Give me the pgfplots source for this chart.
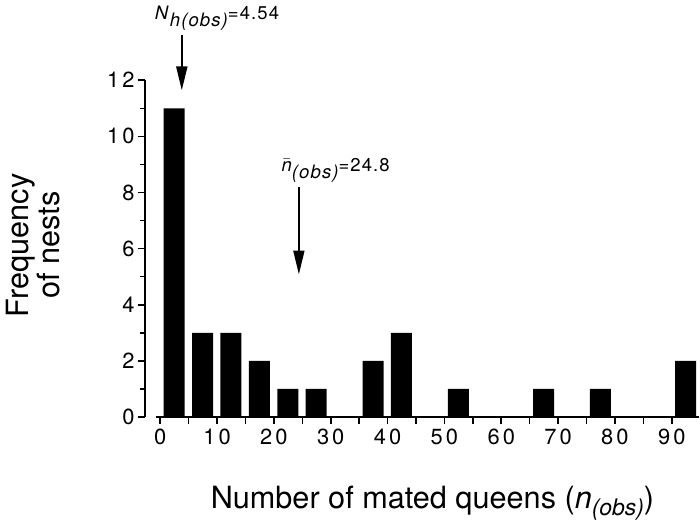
\documentclass[border=0pt]{standalone}
\usepackage{fontspec}
\setmainfont{TeX Gyre Heros}
\newfontfamily\tickfont{TeX Gyre Heros}[LetterSpace=14]
\newfontfamily\annfont{TeX Gyre Heros}[LetterSpace=6]
\usepackage{pgfplots}
\pgfplotsset{compat=1.18}
\usetikzlibrary{arrows.meta}
\pgfplotstableread{
x y
2.45 11
7.45 3
12.45 3
17.45 2
22.45 1
27.45 1
37.45 2
42.45 3
52.45 1
67.45 1
77.45 1
92.45 2
}\bins
\begin{document}
\begin{tikzpicture}
\begin{axis}[
  scale only axis,
  width=278.6pt, height=169.3pt,
  xmin=-2.7, xmax=94.8, ymin=0, ymax=12,
  axis y line*=left, axis x line*=bottom,
  x axis line style={draw=none},
  y axis line style={line width=1pt, -},
  clip=false,
  tick align=outside,
  major tick length=3.5pt, minor tick length=2.5pt,
  every tick/.style={black, line width=0.8pt},
  xtick={0,5,...,90},
  xticklabels={0,,10,,20,,30,,40,,50,,60,,70,,80,,90},
  ytick={0,2,...,12}, minor ytick={1,3,...,11},
  yticklabels={0,2,4,6,8,10,12},
  tick label style={font=\tickfont\fontsize{11}{13}\selectfont},
  yticklabel style={inner sep=1.5pt},
  xticklabel style={inner sep=2.5pt},
  xlabel={Number of mated queens (\textit{n}\raisebox{-3.8pt}{\fontsize{11.5}{13}\selectfont\itshape(obs)})},
  xlabel style={at={(rel axis cs:0.519,-0.2708)}, anchor=base, font=\fontsize{15.4}{17}\selectfont},
  ylabel={Frequency\\of nests},
  ylabel style={at={(rel axis cs:-0.14,0.51)}, anchor=south, align=center, font=\fontsize{15.4}{15.5}\selectfont},
]
\path (rel axis cs:-0.2572,-0.3122) rectangle (rel axis cs:0.9993,1.2383);
\draw[line width=1pt] (axis cs:-0.8,0) -- (axis cs:94.8,0);
\addplot[ybar, bar width=3.7, bar shift=0pt, fill=black, draw=none] table[x=x, y=y] {\bins};
\draw[line width=1pt, -{Triangle[length=12pt, width=5.5pt]}] (axis cs:3.8,13.62) -- (axis cs:3.8,11.64);
\draw[line width=1pt, -{Triangle[length=12pt, width=5.5pt]}] (axis cs:24.4,8.2) -- (axis cs:24.4,5.08);
\node[anchor=base west, inner sep=0pt, font=\annfont\fontsize{9.3}{11}\selectfont] at (axis cs:-1.0,14.15)
  {\textit{N}\raisebox{-3.5pt}{\itshape h(obs)}=4.54};
\node[anchor=base west, inner sep=0pt, font=\annfont\fontsize{9.3}{11}\selectfont] at (axis cs:21.3,8.75)
  {$\bar{\mbox{\itshape n}}$\raisebox{-3.5pt}{\itshape (obs)}=24.8};
\end{axis}
\end{tikzpicture}
\end{document}
